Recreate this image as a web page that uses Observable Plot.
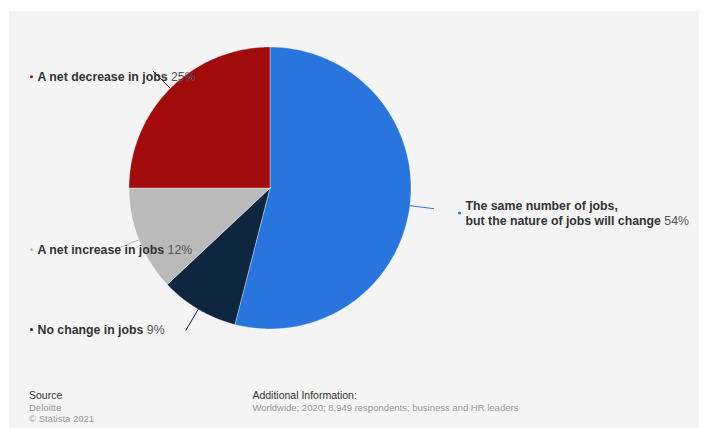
<!DOCTYPE html>
<html>
<head>
<meta charset="utf-8">
<script src="https://cdn.jsdelivr.net/npm/d3@7"></script>
<script src="https://cdn.jsdelivr.net/npm/@observablehq/plot@0.6"></script>
<style>
  html, body { margin: 0; padding: 0; background: #ffffff; }
  #wrap { position: relative; width: 702px; height: 428px; overflow: hidden; background: #ffffff;
          font-family: "Liberation Sans", Arial, Helvetica, sans-serif; }
  #panel { position: absolute; left: 9px; top: 11px; width: 690px; height: 417px; background: #f4f4f4; }
  #chart { position: absolute; left: 0; top: 0; }
  .ft { position: absolute; white-space: nowrap; line-height: 12px; }
</style>
</head>
<body>
<div id="wrap">
  <div id="panel"></div>
  <div id="chart"></div>
  <div class="ft" style="left:29px;top:389.4px;font-size:10.5px;color:#333;">Source</div>
  <div class="ft" style="left:29px;top:401.7px;font-size:9.5px;color:#999;">Deloitte</div>
  <div class="ft" style="left:29px;top:413.4px;font-size:9.5px;color:#999;">© Statista 2021</div>
  <div class="ft" style="left:252.4px;top:389.4px;font-size:10.5px;color:#333;">Additional Information:</div>
  <div class="ft" style="left:252.4px;top:401.7px;font-size:9.5px;color:#999;">Worldwide; 2020; 8,949 respondents; business and HR leaders</div>
</div>
<script>
// ---- data ----
const categories = [
  "The same number of jobs,\nbut the nature of jobs will change",
  "No change in jobs",
  "A net increase in jobs",
  "A net decrease in jobs"
];
const values = [54, 9, 12, 25];
const percentLabels = ["54%", "9%", "12%", "25%"];
const colors = ["#2876dd", "#0f2640", "#bababa", "#a10b0b"];

// ---- layout (pixels) ----
const W = 702, H = 428;
const CX = 269.5, CY = 187.5, R = 141;
// label bullet anchors in pixels
const labelBulletX = [459, 31, 31, 31];
const labelBulletY = [212.4, 328.9, 248.9, 76.2];
const labelGap = 6;

const toX = px => (px - CX) / R;
const toY = py => (CY - py) / R;

// ---- build slice outlines from the values ----
const total = d3.sum(values);
const slicePts = [];
const connPts = [];
let acc = 0;
categories.forEach((cat, i) => {
  const a0 = acc / total * 2 * Math.PI;
  acc += values[i];
  const a1 = acc / total * 2 * Math.PI;
  const n = Math.max(2, Math.ceil((a1 - a0) / (Math.PI / 180)));
  slicePts.push({cat, x: 0, y: 0});
  for (let k = 0; k <= n; ++k) {
    const a = a0 + (a1 - a0) * k / n;
    slicePts.push({cat, x: Math.sin(a), y: Math.cos(a)});
  }
  slicePts.push({cat, x: 0, y: 0});
  const m = (a0 + a1) / 2;
  connPts.push({cat, x: Math.sin(m), y: Math.cos(m)});
  connPts.push({cat, x: Math.sin(m) * 1.17, y: Math.cos(m) * 1.17});
});

const labels = categories.map((cat, i) => ({
  cat,
  idx: i,
  bx: toX(labelBulletX[i]),
  by: toY(labelBulletY[i]),
  tx: toX(labelBulletX[i] + labelGap)
}));

const chart = Plot.plot({
  width: W,
  height: H,
  marginLeft: CX - R,
  marginRight: W - (CX + R),
  marginTop: CY - R,
  marginBottom: H - (CY + R),
  x: {domain: [-1, 1], axis: null},
  y: {domain: [-1, 1], axis: null},
  color: {domain: categories, range: colors},
  style: {background: "transparent", fontFamily: "Liberation Sans, Arial, Helvetica, sans-serif", overflow: "visible"},
  marks: [
    Plot.line(slicePts, {x: "x", y: "y", z: "cat", fill: "cat", stroke: "#ffffff", strokeWidth: 0.5, strokeOpacity: 0.7, curve: "linear"}),
    Plot.line(connPts, {x: "x", y: "y", z: "cat", stroke: "cat", strokeWidth: 1}),
    Plot.dot(labels, {x: "bx", y: "by", r: 1.5, fill: "cat"}),
    Plot.text(labels, {x: "tx", y: "by", text: d => d.cat, textAnchor: "start", fontWeight: "bold", fontSize: 12.3, fill: "#333333", lineHeight: 1.17})
  ]
});

document.getElementById("chart").appendChild(chart);

// append the normal-weight percentage after each bold label
d3.select(chart).selectAll('g[aria-label="text"] text').each(function(d, j) {
  const k = typeof d === "number" ? d : j;
  d3.select(this).append("tspan")
    .attr("font-weight", "normal")
    .attr("fill", "#555555")
    .text(" " + percentLabels[labels[k].idx]);
});
</script>
</body>
</html>
